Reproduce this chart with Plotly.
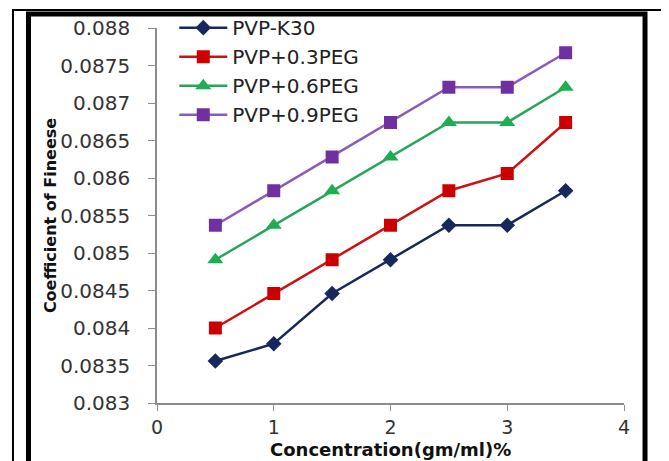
import plotly.graph_objects as go

# concentration (gm/ml)%
concentration = [0.5, 1.0, 1.5, 2.0, 2.5, 3.0, 3.5]

pvp_k30 = [0.08356, 0.08379, 0.08446, 0.08491, 0.08537, 0.08537, 0.08583]
pvp_03peg = [0.08400, 0.08446, 0.08491, 0.08537, 0.08583, 0.08606, 0.08674]
pvp_06peg = [0.08491, 0.08537, 0.08583, 0.08628, 0.08674, 0.08674, 0.08721]
pvp_09peg = [0.08537, 0.08583, 0.08628, 0.08674, 0.08721, 0.08721, 0.08767]

series_names = ["PVP-K30", "PVP+0.3PEG", "PVP+0.6PEG", "PVP+0.9PEG"]
series_values = [pvp_k30, pvp_03peg, pvp_06peg, pvp_09peg]

y_ticks = [0.083, 0.0835, 0.084, 0.0845, 0.085, 0.0855, 0.086, 0.0865, 0.087, 0.0875, 0.088]
y_tick_text = ["0.083", "0.0835", "0.084", "0.0845", "0.085", "0.0855", "0.086", "0.0865", "0.087", "0.0875", "0.088"]

styles = [
    dict(line="#17285e", marker="#17285e", symbol="diamond", size=12),
    dict(line="#d01010", marker="#cc0000", symbol="square", size=13),
    dict(line="#26a65b", marker="#1fae4f", symbol="triangle-up", size=14),
    dict(line="#8a5bb8", marker="#7030a0", symbol="square", size=13),
]

fig = go.Figure()
for name, vals, st in zip(series_names, series_values, styles):
    fig.add_trace(go.Scatter(
        x=concentration, y=vals, name=name, mode="lines+markers",
        line=dict(color=st["line"], width=2.5),
        marker=dict(color=st["marker"], symbol=st["symbol"], size=st["size"]),
    ))

font_main = "DejaVu Sans, Arial, sans-serif"

# the page body adds an 8px offset, so margins are shifted to compensate
fig.update_layout(
    width=669, height=461,
    margin=dict(l=149, r=53, t=20, b=66, autoexpand=False),
    paper_bgcolor="white",
    plot_bgcolor="white",
    font=dict(family=font_main, size=19, color="#222222"),
    showlegend=True,
    legend=dict(
        x=0.037, y=1.053, xanchor="left", yanchor="top",
        bgcolor="rgba(0,0,0,0)", font=dict(size=20, color="#222222"),
        tracegroupgap=0, itemwidth=48,
    ),
    xaxis=dict(
        range=[0, 4], tickvals=[0, 1, 2, 3, 4], showgrid=False, zeroline=False,
        showline=True, linecolor="#8c8c8c", linewidth=1.5, automargin=False,
        ticks="outside", ticklen=6, tickcolor="#8c8c8c",
        tickfont=dict(size=19, color="#333333"), ticklabelstandoff=0,
    ),
    yaxis=dict(
        range=[0.083, 0.088], tickvals=y_ticks, ticktext=y_tick_text, showgrid=False, zeroline=False,
        showline=True, linecolor="#8c8c8c", linewidth=1.5, automargin=False,
        ticks="outside", ticklen=7, tickcolor="#8c8c8c",
        tickfont=dict(size=20, color="#333333"), ticklabelstandoff=14,
        title=dict(text="<b>Coefficient of Fineese</b>", font=dict(size=16, color="#111111"), standoff=0),
    ),
)

# x axis title sits tight under the tick labels, as in the original
fig.add_annotation(
    text="<b>Concentration(gm/ml)%</b>", xref="paper", yref="paper",
    x=0.5, y=-0.124, xanchor="center", yanchor="middle", showarrow=False,
    font=dict(size=18, color="#111111"),
)

# double frame around the figure
fig.add_shape(type="rect", xref="paper", yref="paper",
              x0=-0.3084, x1=1.0857, y0=-0.2, y1=1.048,
              line=dict(color="black", width=2), fillcolor="rgba(0,0,0,0)", layer="above")
fig.add_shape(type="rect", xref="paper", yref="paper",
              x0=-0.2752, x1=1.0450, y0=-0.2, y1=1.0373,
              line=dict(color="black", width=5), fillcolor="rgba(0,0,0,0)", layer="above")

fig.write_html("out.html")
